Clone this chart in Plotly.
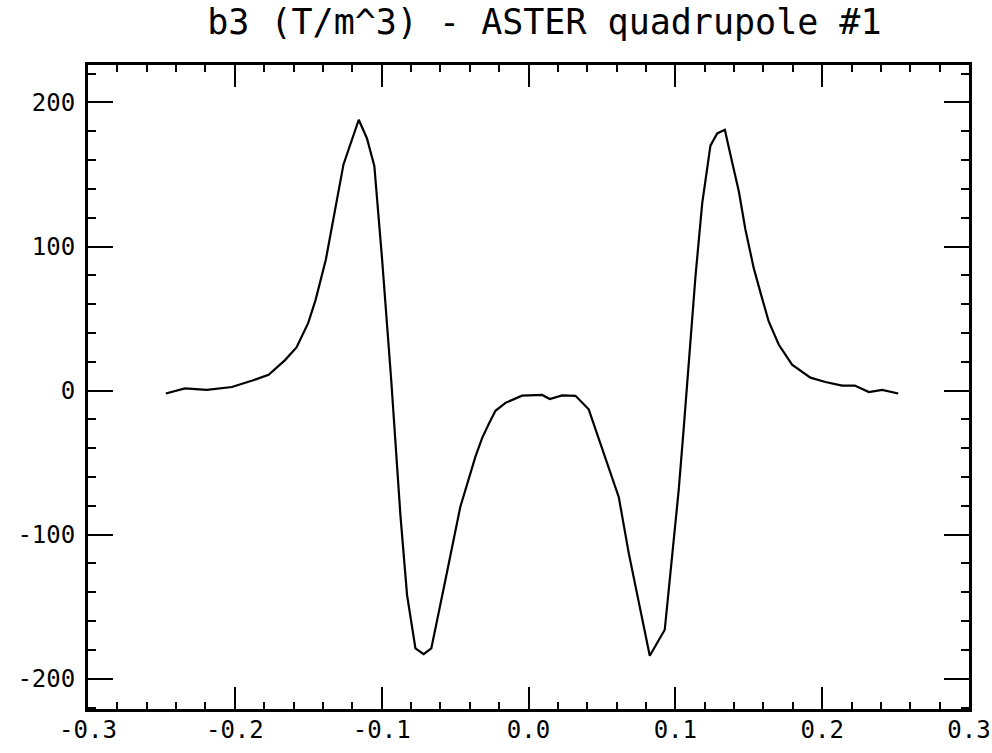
import plotly.graph_objects as go

# Data (position along axis vs b3 in T/m^3)
x_pos = [-0.247, -0.234, -0.219, -0.202, -0.188, -0.177, -0.166, -0.158, -0.150, -0.145,
         -0.138, -0.132, -0.126, -0.1156, -0.110, -0.105, -0.0997, -0.0934, -0.0918, -0.0872,
         -0.0827, -0.077, -0.0714, -0.0662, -0.0567, -0.0465, -0.0362, -0.0316, -0.027, -0.0225,
         -0.0157, -0.0044, 0.0093, 0.0145, 0.0229, 0.032, 0.041, 0.0524, 0.0615, 0.0683,
         0.0826, 0.0928, 0.0955, 0.0978, 0.1023, 0.1058, 0.1085, 0.1137, 0.1183, 0.1239,
         0.1285, 0.1337, 0.1387, 0.1433, 0.1477, 0.1534, 0.1591, 0.1636, 0.1704, 0.1795,
         0.192, 0.2022, 0.2136, 0.2222, 0.2318, 0.2409, 0.2518]
b3 = [-2, 1.5, 0.5, 2.5, 7, 11, 21, 30, 47, 63,
      91, 123, 157, 188, 175, 156, 91, 6, -20, -87,
      -142, -179, -183, -179, -132, -81, -46, -33, -23, -14,
      -8.5, -3.5, -3, -5.8, -3.3, -3.6, -13, -46.5, -74, -113,
      -184, -166, -138, -115, -69, -25, 10, 79, 130, 170,
      178.5, 181, 158.5, 138, 112, 85, 64, 48, 32, 18,
      9, 6, 3.5, 3.5, -1, 0.5, -2]

x_tickvals = [-0.3, -0.2, -0.1, 0.0, 0.1, 0.2, 0.3]
x_ticktext = ["-0.3", "-0.2", "-0.1", "0.0", "0.1", "0.2", "0.3"]
y_tickvals = [-200, -100, 0, 100, 200]
y_ticktext = ["-200", "-100", "0", "100", "200"]
title_text = "b3 (T/m^3) - ASTER quadrupole #1"

FONT = "DejaVu Sans Mono"

fig = go.Figure()
fig.add_trace(go.Scatter(x=x_pos, y=b3, mode="lines",
                         line=dict(color="black", width=2.2), showlegend=False,
                         hoverinfo="skip"))

fig.update_layout(
    width=992, height=753,
    paper_bgcolor="white", plot_bgcolor="white",
    margin=dict(l=88, r=23, t=65, b=44, autoexpand=False),
    title=dict(text=title_text, x=0.518, xref="paper", xanchor="center",
               y=1 - 22 / 753, yref="container", yanchor="middle",
               font=dict(family=FONT, size=35, color="black")),
    font=dict(family=FONT, size=24, color="black"),
)

fig.update_xaxes(
    range=[-0.3, 0.3], tickvals=x_tickvals, ticktext=x_ticktext,
    ticks="inside", ticklen=22, tickwidth=2, tickcolor="black",
    minor=dict(ticks="inside", ticklen=7, tickwidth=2, tickcolor="black", dtick=0.02, showgrid=False),
    showline=True, linecolor="black", linewidth=3, mirror="ticks",
    showgrid=False, zeroline=False, automargin=False, ticklabelstandoff=-3,
    tickfont=dict(family=FONT, size=24, color="black"),
)
fig.update_yaxes(
    range=[-221, 226], tickvals=y_tickvals, ticktext=y_ticktext,
    ticks="inside", ticklen=25, tickwidth=2, tickcolor="black",
    minor=dict(ticks="inside", ticklen=8, tickwidth=2, tickcolor="black", dtick=20, showgrid=False),
    showline=True, linecolor="black", linewidth=3, mirror="ticks",
    showgrid=False, zeroline=False, automargin=False, ticklabelstandoff=5,
    tickfont=dict(family=FONT, size=24, color="black"),
)

fig.write_html("out.html",
               config={"displayModeBar": False},
               post_script="document.body.style.margin='0';document.body.style.overflow='hidden';")
